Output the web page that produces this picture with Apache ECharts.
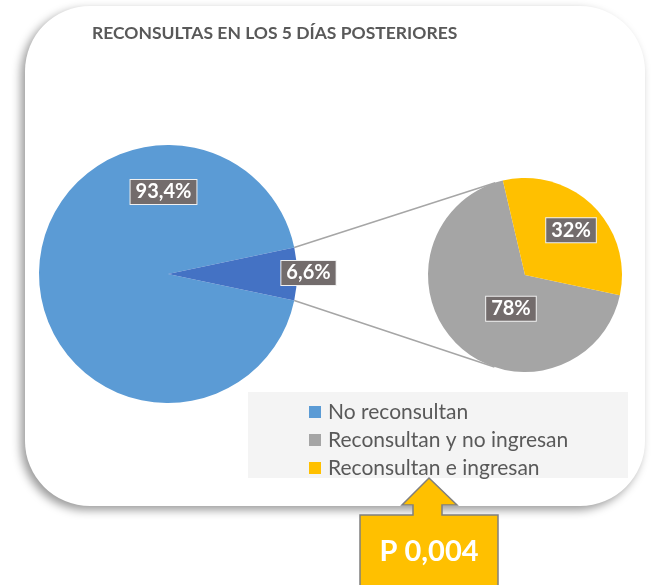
<!DOCTYPE html>
<html>
<head>
<meta charset="utf-8">
<script src="https://cdn.jsdelivr.net/npm/echarts@6/dist/echarts.min.js"></script>
<style>
  html, body { margin: 0; padding: 0; background: #fff; }
  #chart { width: 652px; height: 585px; }
</style>
</head>
<body>
<div id="chart"></div>
<script>
// data
const mainNames = ['No reconsultan', 'Reconsultan'];
const mainValues = [93.4, 6.6];
const mainLabels = ['93,4%', '6,6%'];
const subNames = ['Reconsultan y no ingresan', 'Reconsultan e ingresan'];
const subValues = [68, 32];          // slice sizes as drawn
const subLabels = ['78%', '32%'];    // text printed on the slices
const legendNames = ['No reconsultan', 'Reconsultan y no ingresan', 'Reconsultan e ingresan'];

const FONT = 'Lato, "Noto Sans", sans-serif';
const mainColors = ['#5b9bd5', '#4472c4'];
const subColors = ['#a5a5a5', '#ffc000'];

// layout
const mainC = [168, 274], mainR = 129;
const subC = [525, 275], subR = 97;
const mainOffsets = [[63, -82], [73, -1]];
const subOffsets = [[22, -3], [10, -8]];

const chart = echarts.init(document.getElementById('chart'));

// small slice is centred on 3 o'clock
const smallHalf = mainValues[1] / 100 * 360 / 2;
const mainStart = 360 - smallHalf;
// yellow slice ends a little below 3 o'clock
const subStart = 348;

// connector lines: from the edges of the small slice, tangent to the second pie
function tangentLine(sign) {
  const a = smallHalf * Math.PI / 180;
  const p = [mainC[0] + mainR * Math.cos(a), mainC[1] - sign * mainR * Math.sin(a)];
  const dx = p[0] - subC[0], dy = p[1] - subC[1];
  const d = Math.sqrt(dx * dx + dy * dy);
  const base = Math.atan2(dy, dx);
  const t = base + sign * Math.acos(subR / d);
  const q = [subC[0] + subR * Math.cos(t), subC[1] + subR * Math.sin(t)];
  return { type: 'line', shape: { x1: p[0], y1: p[1], x2: q[0], y2: q[1] },
    style: { stroke: '#a6a6a6', lineWidth: 1.5 } };
}

const labelStyle = {
  show: true,
  position: 'inside',
  color: '#fff',
  fontFamily: FONT,
  fontWeight: 'bold',
  fontSize: 20,
  lineHeight: 20,
  backgroundColor: '#736c6c',
  borderColor: '#f0f0f0',
  borderWidth: 1,
  padding: [3, 5, 1, 5]
};

const option = {
  animation: false,
  title: {
    text: 'RECONSULTAS EN LOS 5 DÍAS POSTERIORES',
    left: 87,
    top: 19,
    textStyle: { fontFamily: FONT, fontWeight: 'bold', fontSize: 17.5, color: '#595959' }
  },
  legend: {
    data: legendNames,
    orient: 'vertical',
    left: 304,
    top: 396,
    icon: 'rect',
    itemWidth: 12,
    itemHeight: 12,
    itemGap: 6,
    selectedMode: false,
    textStyle: { fontFamily: FONT, fontSize: 21, color: '#595959', lineHeight: 22, padding: [0, 0, 0, 2] }
  },
  graphic: [
    { type: 'rect', shape: { x: 25, y: 6, width: 620, height: 500, r: 65 },
      style: { fill: '#fff', shadowColor: 'rgba(0,0,0,0.4)', shadowBlur: 10, shadowOffsetX: -4, shadowOffsetY: 4 } },
    { type: 'rect', shape: { x: 248, y: 392, width: 380, height: 86 },
      style: { fill: '#f4f4f4' } },
    tangentLine(1),
    tangentLine(-1),
    { type: 'polygon',
      shape: { points: [[429, 478], [457, 505], [442, 505], [442, 515], [498, 515], [498, 592],
                        [360, 592], [360, 515], [413, 515], [413, 505], [402, 505]] },
      style: { fill: '#ffc000', stroke: '#7f7f7f', lineWidth: 1.5 } },
    { type: 'text', x: 429, y: 552,
      style: { text: 'P 0,004', fill: '#fff', font: 'bold 29px ' + FONT, align: 'center', verticalAlign: 'middle' } }
  ],
  series: [
    {
      type: 'pie',
      center: mainC,
      radius: mainR,
      startAngle: mainStart,
      clockwise: true,
      silent: true,
      labelLine: { show: false },
      label: labelStyle,
      data: mainValues.map((v, i) => ({
        name: mainNames[i], value: v,
        itemStyle: { color: mainColors[i] },
        label: { formatter: mainLabels[i], offset: mainOffsets[i] }
      }))
    },
    {
      type: 'pie',
      center: subC,
      radius: subR,
      startAngle: subStart,
      clockwise: true,
      silent: true,
      labelLine: { show: false },
      label: labelStyle,
      data: subValues.map((v, i) => ({
        name: subNames[i], value: v,
        itemStyle: { color: subColors[i] },
        label: { formatter: subLabels[i], offset: subOffsets[i] }
      }))
    }
  ]
};

chart.setOption(option);
</script>
</body>
</html>
